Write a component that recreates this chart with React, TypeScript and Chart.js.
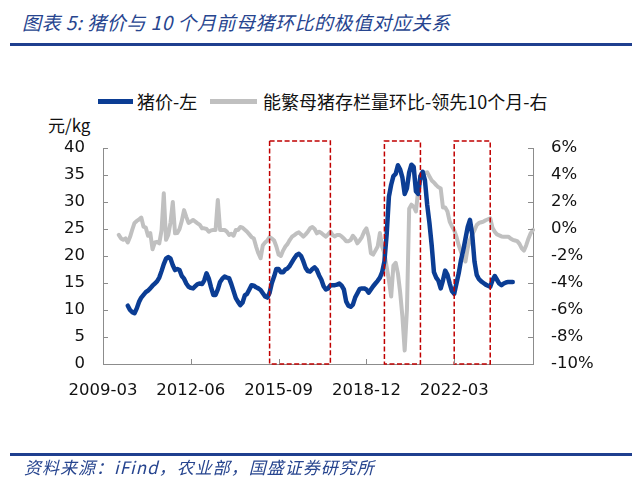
import React, { useEffect, useRef } from "react";
import { Chart, registerables } from "chart.js";

Chart.register(...registerables);

// ---- categories (monthly, 2009-03 .. 2025-02) ----
const FIRST_MONTH = "2009-03";
const MONTH_COUNT = 192;
const monthLabels: string[] = Array.from({ length: MONTH_COUNT }, (_, i) => {
  const [y0, m0] = FIRST_MONTH.split("-").map(Number);
  const m = m0 - 1 + i;
  const y = y0 + Math.floor(m / 12);
  return `${y}-${String((m % 12) + 1).padStart(2, "0")}`;
});
const tickLabels = ["2009-03", "2012-06", "2015-09", "2018-12", "2022-03"];

// ---- series: pig price (yuan/kg), monthly from 2010-02 ----
const priceStart = "2010-02";
const priceValues = [
  10.8, 10.0, 9.6, 9.4, 10.3, 11.5, 12.3, 12.8, 13.3, 13.6,
  14.0, 14.5, 14.9, 15.3, 16.0, 17.2, 18.5, 19.5, 19.8, 19.5,
  18.3, 17.4, 17.6, 17.4, 16.3, 15.8, 14.9, 14.3, 14.1, 14.0,
  14.4, 14.8, 14.9, 14.8, 15.5, 16.8, 15.8, 14.2, 12.8, 12.8,
  13.8, 15.2, 15.8, 16.2, 16.0, 15.9, 14.8, 13.5, 12.2, 11.5,
  10.9, 11.4, 12.7, 13.0, 13.8, 14.6, 14.5, 14.2, 14.0, 13.7,
  13.1, 12.5, 12.3, 13.2, 15.0, 16.2, 17.6, 17.6, 17.0, 17.0,
  17.5, 17.7, 18.2, 18.9, 19.6, 20.2, 20.4, 20.0, 19.0, 17.8,
  17.2, 17.1, 17.6, 17.9, 17.4, 16.4, 15.6, 14.4, 13.8, 14.0,
  14.6, 14.6, 14.6, 14.7, 14.9, 14.5, 13.8, 11.6, 10.8, 10.6,
  11.0, 12.3, 13.1, 13.9, 14.0, 14.0, 13.8, 13.2, 13.8, 14.4,
  14.9, 15.4, 16.0, 17.0, 19.0, 24.0, 31.0, 33.2, 34.8, 35.2,
  36.8, 36.0, 34.5, 31.5, 32.5, 35.5, 36.9, 36.5, 32.0, 31.5,
  34.8, 35.6, 34.0, 29.5, 26.1, 22.0, 17.0, 16.0, 15.4, 14.0,
  15.5, 17.3, 16.5, 14.9, 13.5, 13.0, 14.9, 16.8, 19.2, 21.0,
  23.2, 25.4, 26.7, 24.0, 19.0, 16.5, 15.7, 15.3, 15.0, 14.7,
  14.5, 14.3, 15.5, 16.3, 15.6, 14.9, 14.6, 14.9, 15.1, 15.2,
  15.2, 15.2,
];

// ---- series: sow inventory MoM (%), led 10 months, monthly from 2009-10 ----
const sowStart = "2009-10";
const sowValues = [
  -0.44, -0.7, -0.8, -0.7, -1.0, -0.6, -0.05, 0.45, 0.6, 0.7,
  0.85, 0.17, 0.1, -0.5, -0.3, -1.5, -1.0, -0.95, -1.06, -0.1,
  2.64, -0.8, -0.44, 0.5, 2.0, -0.32, -0.3, 0.0, 0.6, 1.4,
  0.9, 0.45, 0.55, 0.67, 0.55, 0.42, 0.3, 0.05, 0.05, 0.0,
  -0.2, -0.1, -0.07, -0.07, 2.15, -0.07, -0.07, -0.07, -0.2, -0.44,
  -0.35, -0.5, -0.07, -0.07, 0.15, 0.1, -0.05, -0.2, -0.4, -0.6,
  -0.7, -1.3, -1.8, -2.17, -1.2, -1.0, -0.85, -0.6, -0.7, -0.85,
  -1.3, -1.9, -2.0, -1.6, -1.3, -1.1, -0.8, -0.57, -0.45, -0.32,
  -0.25, -0.4, -0.57, -0.4, -0.2, 0.05, 0.15, 0.0, -0.32, -0.2,
  -0.3, -0.44, -0.57, -0.4, -0.2, -0.45, -0.55, -0.44, -0.44, -0.55,
  -0.7, -0.9, -0.9, -0.81, -0.5, -0.7, -1.06, -0.85, -0.6, -0.2,
  0.05, -0.57, -1.8, -1.9, -1.6, -1.3, -0.3, -1.3, -1.8, -2.8,
  -3.8, -5.0, -2.7, -2.5, -3.3, -4.7, -6.5, -9.0, -6.0, 1.5,
  1.8, 1.65, 1.3, 2.9, 3.9, 4.1, 4.15, 4.2, 3.9, 3.6,
  3.45, 3.25, 3.1, 3.0, 1.6, 1.6, 1.3, 0.55, 0.2, -0.1,
  -0.57, -1.2, -1.7, -2.2, -2.4, -1.4, -0.8, -0.4, -0.1, 0.3,
  0.45, 0.5, 0.55, 0.65, 0.72, 0.79, 0.1, -0.2, -0.4, -0.47,
  -0.55, -0.57, -0.57, -0.57, -0.7, -0.8, -0.85, -0.9, -1.1, -1.43,
  -1.6, -1.2, -0.7, -0.3, -0.07,
];

// ---- highlighted periods (dashed boxes) ----
const highlightStarts = ["2015-05", "2019-08", "2022-03"];
const highlightEnds = ["2017-08", "2020-12", "2023-07"];
const highlightTopValue = 41.3; // left-axis units

const leftAxis = { min: 0, max: 40, step: 5 };
const rightAxis = { min: -10, max: 6, step: 2 };

const seriesNames = ["猪价-左", "能繁母猪存栏量环比-领先10个月-右"];

const BLUE = "#0b3d94";
const GRAY = "#c0c0c0";
const AXIS = "#8c8c8c";

function padSeries(start: string, values: number[]): (number | null)[] {
  const offset = monthLabels.indexOf(start);
  const out: (number | null)[] = new Array(MONTH_COUNT).fill(null);
  values.forEach((v, i) => {
    if (offset + i < MONTH_COUNT) out[offset + i] = v;
  });
  return out;
}

const innerTicksPlugin = {
  id: "innerTicks",
  afterDraw(chart: any) {
    const { ctx, chartArea } = chart;
    const { left, right, bottom } = chartArea;
    ctx.save();
    ctx.strokeStyle = AXIS;
    ctx.lineWidth = 1;
    ctx.beginPath();
    const yl = chart.scales.y;
    yl.ticks.forEach((t: any) => {
      const py = Math.round(yl.getPixelForValue(t.value)) + 0.5;
      ctx.moveTo(left, py);
      ctx.lineTo(left + 5, py);
    });
    const yr = chart.scales.y1;
    yr.ticks.forEach((t: any) => {
      const py = Math.round(yr.getPixelForValue(t.value)) + 0.5;
      ctx.moveTo(right, py);
      ctx.lineTo(right - 5, py);
    });
    const xs = chart.scales.x;
    tickLabels.forEach((lab) => {
      const idx = monthLabels.indexOf(lab);
      const px = Math.round(xs.getPixelForValue(idx)) + 0.5;
      ctx.moveTo(px, bottom);
      ctx.lineTo(px, bottom - 5);
    });
    ctx.stroke();
    ctx.restore();
  },
};

const boxesPlugin = {
  id: "highlightBoxes",
  afterDatasetsDraw(chart: any) {
    const { ctx } = chart;
    const xs = chart.scales.x;
    const ys = chart.scales.y;
    ctx.save();
    ctx.strokeStyle = "#c00000";
    ctx.lineWidth = 1.5;
    ctx.setLineDash([5, 2.5]);
    highlightStarts.forEach((s, i) => {
      const x0 = xs.getPixelForValue(monthLabels.indexOf(s));
      const x1 = xs.getPixelForValue(monthLabels.indexOf(highlightEnds[i]));
      const y0 = ys.getPixelForValue(highlightTopValue);
      const y1 = ys.getPixelForValue(0);
      ctx.strokeRect(x0, y0, x1 - x0, y1 - y0);
    });
    ctx.restore();
  },
};

export default function App() {
  const canvasRef = useRef<HTMLCanvasElement | null>(null);

  useEffect(() => {
    const canvas = canvasRef.current;
    if (!canvas) return;
    const tickFont = { family: "'DejaVu Sans', Verdana, sans-serif", size: 16.5 };
    const chart = new Chart(canvas, {
      type: "line",
      data: {
        labels: monthLabels,
        datasets: [
          {
            label: seriesNames[0],
            data: padSeries(priceStart, priceValues),
            borderColor: BLUE,
            backgroundColor: BLUE,
            borderWidth: 4.5,
            borderJoinStyle: "round",
            borderCapStyle: "round",
            pointRadius: 0,
            yAxisID: "y",
            tension: 0,
          },
          {
            label: seriesNames[1],
            data: padSeries(sowStart, sowValues),
            borderColor: GRAY,
            backgroundColor: GRAY,
            borderWidth: 4,
            borderJoinStyle: "round",
            borderCapStyle: "round",
            pointRadius: 0,
            yAxisID: "y1",
            tension: 0,
          },
        ],
      },
      options: {
        animation: false,
        responsive: false,
        events: [],
        layout: { padding: { top: 148, left: 0, right: 0, bottom: 0 } },
        plugins: {
          legend: { display: false },
          title: { display: false },
          tooltip: { enabled: false },
        },
        scales: {
          x: {
            type: "category",
            grid: { display: false, drawTicks: false, tickLength: 0 },
            border: { display: true, color: AXIS, width: 1 },
            ticks: {
              autoSkip: false,
              maxRotation: 0,
              minRotation: 0,
              padding: 17,
              color: "#111",
              font: tickFont,
              callback: (_v: any, i: number) =>
                tickLabels.includes(monthLabels[i]) ? monthLabels[i] : "",
            },
            afterFit: (scale: any) => {
              scale.height = 116;
            },
          },
          y: {
            position: "left",
            min: leftAxis.min,
            max: leftAxis.max,
            grid: { display: false, drawTicks: false, tickLength: 0 },
            border: { display: true, color: AXIS, width: 1 },
            ticks: {
              stepSize: leftAxis.step,
              padding: 18,
              color: "#111",
              font: tickFont,
            },
            afterFit: (scale: any) => {
              scale.width = 103;
            },
          },
          y1: {
            position: "right",
            min: rightAxis.min,
            max: rightAxis.max,
            grid: { display: false, drawTicks: false, tickLength: 0 },
            border: { display: true, color: AXIS, width: 1 },
            ticks: {
              stepSize: rightAxis.step,
              padding: 18,
              color: "#111",
              font: tickFont,
              callback: (v: any) => `${v}%`,
            },
            afterFit: (scale: any) => {
              scale.width = 107;
            },
          },
        },
      },
      plugins: [innerTicksPlugin, boxesPlugin],
    });
    return () => chart.destroy();
  }, []);

  const cjk = "'Noto Sans CJK SC', 'Noto Sans', sans-serif";
  const titleColor = "#27458f";

  return (
    <div
      style={{
        position: "fixed",
        left: 0,
        top: 0,
        width: 640,
        height: 480,
        background: "#fff",
        overflow: "hidden",
      }}
    >
      <div
        style={{
          position: "absolute",
          left: 22,
          top: 9,
          fontFamily: cjk,
          fontStyle: "italic",
          fontSize: 19,
          lineHeight: "26px",
          color: titleColor,
          whiteSpace: "nowrap",
          letterSpacing: 0.5,
        }}
      >
        图表 5: 猪价与 10 个月前母猪环比的极值对应关系
      </div>
      <div
        style={{
          position: "absolute",
          left: 10,
          top: 43,
          width: 622,
          height: 3,
          background: "#1f3f8f",
        }}
      />
      {/* legend */}
      <div
        style={{
          position: "absolute",
          left: 98,
          top: 99,
          width: 35,
          height: 4.5,
          background: BLUE,
        }}
      />
      <div
        style={{
          position: "absolute",
          left: 137,
          top: 88,
          fontFamily: cjk,
          fontSize: 18,
          lineHeight: "26px",
          color: "#111",
          whiteSpace: "nowrap",
        }}
      >
        {seriesNames[0]}
      </div>
      <div
        style={{
          position: "absolute",
          left: 210,
          top: 99,
          width: 47,
          height: 4.5,
          background: GRAY,
        }}
      />
      <div
        style={{
          position: "absolute",
          left: 263,
          top: 88,
          fontFamily: cjk,
          fontSize: 18,
          lineHeight: "26px",
          color: "#111",
          whiteSpace: "nowrap",
        }}
      >
        {seriesNames[1]}
      </div>
      <div
        style={{
          position: "absolute",
          left: 48,
          top: 113,
          fontFamily: cjk,
          fontSize: 17,
          lineHeight: "24px",
          color: "#111",
          whiteSpace: "nowrap",
        }}
      >
        元/kg
      </div>
      <canvas
        ref={canvasRef}
        width={640}
        height={480}
        style={{ position: "absolute", left: 0, top: 0, width: 640, height: 480 }}
      />
      <div
        style={{
          position: "absolute",
          left: 10,
          top: 453,
          width: 622,
          height: 3,
          background: "#1f3f8f",
        }}
      />
      <div
        style={{
          position: "absolute",
          left: 24,
          top: 456,
          fontFamily: cjk,
          fontStyle: "italic",
          fontSize: 17,
          lineHeight: "22px",
          color: titleColor,
          whiteSpace: "nowrap",
          letterSpacing: 1,
        }}
      >
        资料来源：iFind，农业部，国盛证券研究所
      </div>
    </div>
  );
}
